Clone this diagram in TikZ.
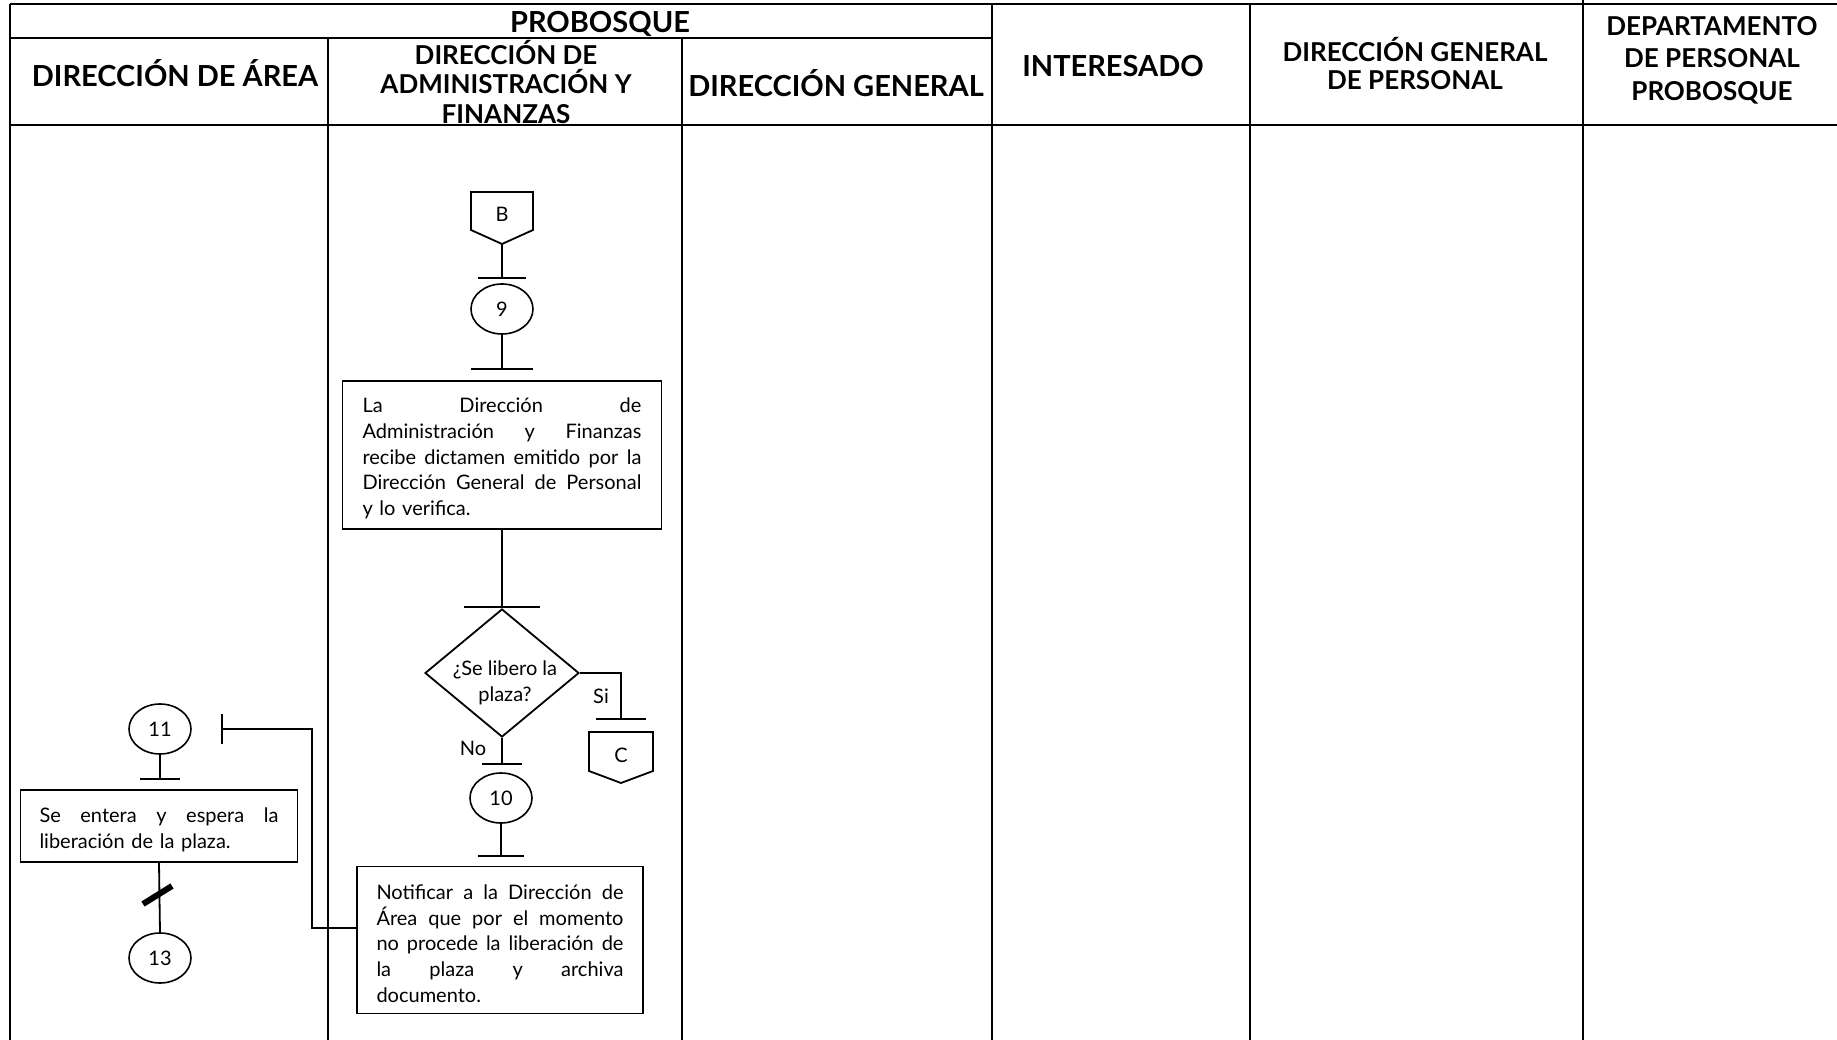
\documentclass[tikz,border=0pt]{standalone}
\usepackage{fontspec}
\setmainfont{Lato}
\usetikzlibrary{shapes.geometric}
\newcommand\jline[2]{\leavevmode\hbox to #1{#2}}
\newcommand\topstrut{\rule{0pt}{22pt}}
\begin{document}
\begin{tikzpicture}[x=1pt,y=-1pt,
  grid/.style={line width=2.6pt},
  flow/.style={line width=1.8pt},
  hdr/.style={font=\fontsize{29}{30}\selectfont\bfseries, align=center, inner sep=0pt},
  body/.style={font=\fontsize{20}{25.7}\selectfont},
  procbox/.style={draw, line width=1.8pt, inner sep=0pt, body, align=left},
  numcirc/.style={ellipse, draw, line width=1.6pt, minimum width=62pt, minimum height=50pt, inner sep=0pt, body},
  lbl/.style={body, inner sep=0pt}
]
\useasboundingbox (0,0) rectangle (1837,1040);
% ---------- grid ----------
\draw[grid] (10,4) -- (1837,4);
\draw[grid] (10,38) -- (992,38);
\draw[grid] (10,125) -- (1837,125);
\draw[grid] (10,4) -- (10,1040);
\draw[grid] (328,38) -- (328,1040);
\draw[grid] (682,38) -- (682,1040);
\draw[grid] (992,4) -- (992,1040);
\draw[grid] (1250,4) -- (1250,1040);
\draw[grid] (1583,0) -- (1583,1040);
% ---------- headers ----------
\node[hdr] (hP) at (600,24) {PROBOSQUE};
\node[hdr] (h1) at (175,73) {DIRECCIÓN DE ÁREA};
\node[hdr, font=\fontsize{26}{29.5}\selectfont\bfseries] (h2) at (506,82) {DIRECCIÓN DE\\ADMINISTRACIÓN Y\\FINANZAS};
\node[hdr] (h3) at (836,83) {DIRECCIÓN GENERAL};
\node[hdr] (h4) at (1113,66) {INTERESADO};
\node[hdr, font=\fontsize{26}{28}\selectfont\bfseries] (h5) at (1415,64) {DIRECCIÓN GENERAL\\DE PERSONAL};
\node[hdr, font=\fontsize{26}{32.5}\selectfont\bfseries] (h6) at (1712,60) {DEPARTAMENTO\\DE PERSONAL\\PROBOSQUE};
% ---------- connector B ----------
\draw[flow] (471,192) -- (533,192) -- (533,230) -- (502,244) -- (471,230) -- cycle;
\node[lbl] (B) at (502,214) {B};
\coordinate (Bp) at (502,244);
\coordinate (t1) at (502,278);
\draw[flow] (Bp) -- (t1);
\draw[flow] ([xshift=-24pt]t1) -- ([xshift=24pt]t1);
\node[numcirc] (n9) at (502,309) {9};
\coordinate (t2) at (502,369);
\draw[flow] (n9.south) -- (t2);
\draw[flow] ([xshift=-31pt]t2) -- ([xshift=31pt]t2);
% ---------- box 1 ----------
\node[procbox, minimum width=319pt, minimum height=148pt, text width=279pt] (p1) at (502,455)
 {\jline{279pt}{\topstrut La\hfill Dirección\hfill de}\\
  \jline{279pt}{Administración\hfill y\hfill Finanzas}\\
  \jline{279pt}{recibe\hfill dictamen\hfill emitido\hfill por\hfill la}\\
  \jline{279pt}{Dirección\hfill General\hfill de\hfill Personal}\\
  y lo verifica.};
\coordinate (t3) at (502,607);
\draw[flow] (p1.south) -- (t3);
\draw[flow] ([xshift=-38pt]t3) -- ([xshift=38pt]t3);
% ---------- decision ----------
\node[diamond, draw, flow, minimum width=154pt, minimum height=128pt, inner sep=0pt] (dec) at (502,673) {};
\node[lbl, align=center] (dectxt) at (505,683) {¿Se libero la\\plaza?};
\coordinate (dcorner) at (621,673);
\coordinate (t4) at (621,719);
\draw[flow] (dec.east) -- (dcorner) -- (t4);
\draw[flow] ([xshift=-25pt]t4) -- ([xshift=25pt]t4);
\node[lbl] (si) at (601,696) {Si};
\draw[flow] (589,732) -- (653,732) -- (653,771) -- (621,783) -- (589,771) -- cycle;
\node[lbl] (C) at (621,755) {C};
\coordinate (t5) at (502,764);
\draw[flow] (dec.south) -- (t5);
\draw[flow] ([xshift=-20pt]t5) -- ([xshift=20pt]t5);
\node[lbl] (no) at (473,748) {No};
\node[numcirc] (n10) at (501,798) {10};
\coordinate (t6) at (501,856);
\draw[flow] (n10.south) -- (t6);
\draw[flow] ([xshift=-23pt]t6) -- ([xshift=23pt]t6);
% ---------- box 2 ----------
\node[procbox, minimum width=286pt, minimum height=147pt, text width=247pt] (p2) at (500,940)
 {\jline{247pt}{\topstrut Notificar\hfill a\hfill la\hfill Dirección\hfill de}\\
  \jline{247pt}{Área\hfill que\hfill por\hfill el\hfill momento}\\
  \jline{247pt}{no\hfill procede\hfill la\hfill liberación\hfill de}\\
  \jline{247pt}{la\hfill plaza\hfill y\hfill archiva}\\
  documento.};
% ---------- left column ----------
\node[numcirc] (n11) at (160,729) {11};
\coordinate (t7) at (160,779);
\draw[flow] (n11.south) -- (t7);
\draw[flow] ([xshift=-20pt]t7) -- ([xshift=20pt]t7);
\node[procbox, minimum width=277pt, minimum height=72pt, text width=239pt] (p3) at (159,826)
 {\jline{239pt}{\topstrut Se\hfill entera\hfill y\hfill espera\hfill la}\\
  liberación de la plaza.};
\node[numcirc] (n13) at (160,958) {13};
\draw[flow] (p3.south) -- (n13.north);
\coordinate (s1) at (143,904);
\coordinate (s2) at (172,886);
\draw[line width=6pt] (s1) -- (s2);
% return line from box 2 to 11
\coordinate (r1) at (312,928);
\coordinate (r2) at (312,729);
\coordinate (r3) at (222,729);
\draw[flow] (p2.west |- r1) -- (r1) -- (r2) -- (r3);
\draw[flow] (222,714) -- (222,744);
\end{tikzpicture}
\end{document}
